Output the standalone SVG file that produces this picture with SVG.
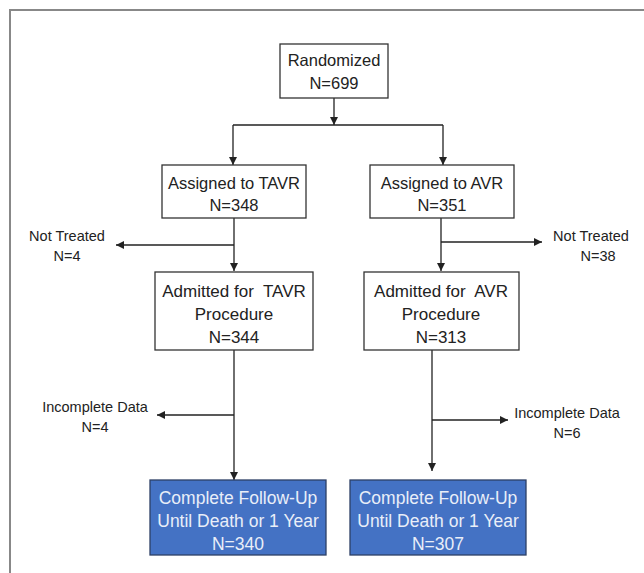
<svg xmlns="http://www.w3.org/2000/svg" width="644" height="573" viewBox="0 0 644 573">
<style>
.box{fill:#fff;stroke:#333;stroke-width:1.3}
.blue{fill:#4472c4;stroke:#2d3f66;stroke-width:1.3}
.t{font-family:"Liberation Sans",Arial,sans-serif;font-size:16.5px;fill:#222;text-anchor:middle}
.a{font-size:17px}
.w{fill:#e9eef8;font-size:17.5px}
.s{font-family:"Liberation Sans",Arial,sans-serif;font-size:14.5px;fill:#222;text-anchor:middle}
.c{stroke:#222;stroke-width:1.3;fill:none}
</style>
<defs>
<marker id="ah" viewBox="0 0 10 10" refX="10" refY="5" markerWidth="8" markerHeight="8" markerUnits="userSpaceOnUse" orient="auto">
<path d="M0,0 L10,5 L0,10 z" fill="#222"/>
</marker>
</defs>
<rect width="644" height="573" fill="#fff"/>
<path d="M10,573 V10 H644" fill="none" stroke="#888" stroke-width="2"/>
<g id="connectors">
<path class="c" d="M334,98 V125" marker-end="url(#ah)"/>
<path class="c" d="M233,125 H443"/>
<path class="c" d="M233,125 V165" marker-end="url(#ah)"/>
<path class="c" d="M443,125 V165" marker-end="url(#ah)"/>
<path class="c" d="M234,218 V271" marker-end="url(#ah)"/>
<path class="c" d="M234,245 H116" marker-end="url(#ah)"/>
<path class="c" d="M441,218 V271" marker-end="url(#ah)"/>
<path class="c" d="M441,242 H542" marker-end="url(#ah)"/>
<path class="c" d="M234,350 V480" marker-end="url(#ah)"/>
<path class="c" d="M234,415 H157" marker-end="url(#ah)"/>
<path class="c" d="M432,350 V471" marker-end="url(#ah)"/>
<path class="c" d="M432,420 H508" marker-end="url(#ah)"/>
</g>
<g id="randomized">
<rect class="box" x="280" y="44" width="108" height="54"/>
<text class="t" x="334" y="66">Randomized</text>
<text class="t" x="334" y="89">N=699</text>
</g>
<g id="assigned-tavr">
<rect class="box" x="162" y="165" width="144" height="53"/>
<text class="t" x="234" y="189">Assigned to TAVR</text>
<text class="t" x="234" y="211">N=348</text>
</g>
<g id="assigned-avr">
<rect class="box" x="370" y="165" width="144" height="53"/>
<text class="t" x="442" y="189">Assigned to AVR</text>
<text class="t" x="442" y="211">N=351</text>
</g>
<g id="not-treated-tavr">
<text class="s" x="67" y="241">Not Treated</text>
<text class="s" x="67" y="261">N=4</text>
</g>
<g id="not-treated-avr">
<text class="s" x="591" y="241">Not Treated</text>
<text class="s" x="598" y="261">N=38</text>
</g>
<g id="admitted-tavr">
<rect class="box" x="155" y="272" width="158" height="78"/>
<text class="t a" x="234" y="297" xml:space="preserve">Admitted for  TAVR</text>
<text class="t a" x="234" y="320">Procedure</text>
<text class="t a" x="234" y="343">N=344</text>
</g>
<g id="admitted-avr">
<rect class="box" x="364" y="272" width="155" height="78"/>
<text class="t a" x="441" y="297" xml:space="preserve">Admitted for  AVR</text>
<text class="t a" x="441" y="320">Procedure</text>
<text class="t a" x="441" y="343">N=313</text>
</g>
<g id="incomplete-tavr">
<text class="s" x="95" y="412">Incomplete Data</text>
<text class="s" x="95" y="432">N=4</text>
</g>
<g id="incomplete-avr">
<text class="s" x="567" y="418">Incomplete Data</text>
<text class="s" x="567" y="438">N=6</text>
</g>
<g id="followup-tavr">
<rect class="blue" x="150" y="480" width="176" height="75"/>
<text class="t w" x="238" y="504">Complete Follow-Up</text>
<text class="t w" x="238" y="527">Until Death or 1 Year</text>
<text class="t w" x="238" y="550">N=340</text>
</g>
<g id="followup-avr">
<rect class="blue" x="350" y="480" width="176" height="75"/>
<text class="t w" x="438" y="504">Complete Follow-Up</text>
<text class="t w" x="438" y="527">Until Death or 1 Year</text>
<text class="t w" x="438" y="550">N=307</text>
</g>
</svg>
